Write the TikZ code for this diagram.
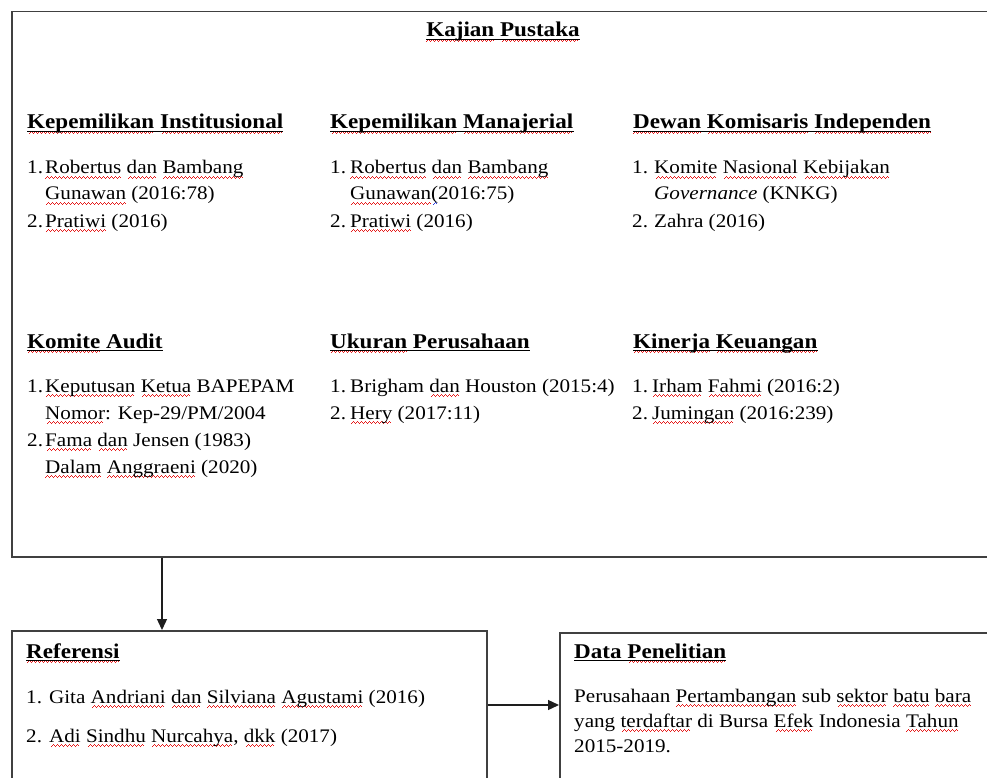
\documentclass[tikz,border=0pt]{standalone}
\usepackage{fontspec}
\setmainfont{Liberation Serif}[FakeStretch=1.1]
\usetikzlibrary{arrows.meta,calc}
\definecolor{frame}{RGB}{64,64,64}
\definecolor{arrowc}{RGB}{30,30,30}
\definecolor{sqred}{RGB}{230,25,25}
\definecolor{sqblue}{RGB}{40,60,220}
\newcommand\wavecell{\hbox{\rule[0pt]{1pt}{1pt}\rule[0.9pt]{1pt}{1pt}\rule[1.8pt]{1pt}{1pt}\rule[0.9pt]{1pt}{1pt}}}
\newcommand\sq[1]{\setbox0\hbox{#1}\rlap{\lower5pt\hbox to\wd0{{\color{sqred}\cleaders\wavecell\hfill}}}\box0\relax}
\newcommand\sqb[1]{\setbox0\hbox{#1}\rlap{\lower5pt\hbox to\wd0{{\color{sqblue}\cleaders\wavecell\hfill}}}\box0\relax}
\tikzset{
  txt/.style={anchor=base west, inner sep=0pt, font=\fontsize{19.2}{22}\selectfont},
  head/.style={anchor=base west, inner sep=0pt, font=\fontsize{21}{24}\selectfont\bfseries},
  boxframe/.style={draw=frame, line width=1.5pt, inner sep=0pt, anchor=north west},
  arr/.style={draw=arrowc, line width=1.3pt, -{Triangle[length=11pt,width=10pt]}},
  uline/.style={draw=black, line width=1.1pt}
}
\begin{document}
\begin{tikzpicture}[x=1pt,y=-1pt]
\useasboundingbox (0,0) rectangle (987,778);
\clip (0,0) rectangle (987,778);
% boxes
\node[boxframe, minimum width=1000pt, minimum height=545pt] (kp) at (11,11) {};
\node[boxframe, minimum width=475pt, minimum height=200pt] (ref) at (11,630) {};
\node[boxframe, minimum width=500pt, minimum height=200pt] (dat) at (559,632) {};
% connectors
\draw[arr] ([xshift=151pt]kp.south west) -- ([xshift=151pt]ref.north west);
\draw[arr] ([yshift=-75pt]ref.north east) -- ([yshift=-73pt]dat.north west);
% title
\node[head, anchor=base] (h0) at (503,37) {\sq{Kajian} \sq{Pustaka}};
% row 1 headings
\node[head] (h11) at (27,129) {\sq{Kepemilikan} \sq{Institusional}};
\node[head] (h12) at (330,129) {\sq{Kepemilikan} \sq{Manajerial}};
\node[head] (h13) at (633,129) {\sq{Dewan} \sq{Komisaris} \sq{Independen}};
% row 1 items
\node[txt] (a11) at (27,174) {\makebox[18pt][l]{1.}\sq{Robertus} \sq{dan} \sq{Bambang}};
\node[txt] (a12) at (45,200) {\sq{Gunawan} (2016:78)};
\node[txt] (a13) at (27,227) {\makebox[18pt][l]{2.}\sq{Pratiwi} (2016)};
\node[txt] (b11) at (330,174) {\makebox[20pt][l]{1.}\sq{Robertus} \sq{dan} \sq{Bambang}};
\node[txt] (b12) at (350,200) {\sq{Gunawan}\sqb{(}2016:75)};
\node[txt] (b13) at (330,227) {\makebox[20pt][l]{2.}\sq{Pratiwi} (2016)};
\node[txt] (c11) at (632,174) {\makebox[22pt][l]{1.}\sq{Komite} \sq{Nasional} \sq{Kebijakan}};
\node[txt] (c12) at (654,200) {\textit{Governance} (KNKG)};
\node[txt] (c13) at (632,227) {\makebox[22pt][l]{2.}Zahra (2016)};
% row 2 headings
\node[head] (h21) at (27,348) {\sq{Komite} Audit};
\node[head] (h22) at (330,348) {\sq{Ukuran} Perusahaan};
\node[head] (h23) at (633,348) {\sq{Kinerja} \sq{Keuangan}};
% row 2 items
\node[txt] (a21) at (27,392) {\makebox[18pt][l]{1.}\sq{Keputusan} \sq{Ketua} BAPEPAM};
\node[txt] (a22) at (45,419) {\sq{Nomor}: Kep-29/PM/2004};
\node[txt] (a23) at (27,446) {\makebox[18pt][l]{2.}\sq{Fama} \sq{dan} Jensen (1983)};
\node[txt] (a24) at (45,473) {\sq{Dalam} \sq{Anggraeni} (2020)};
\node[txt] (b21) at (330,392) {\makebox[20pt][l]{1.}Brigham \sq{dan} Houston (2015:4)};
\node[txt] (b22) at (330,419) {\makebox[20pt][l]{2.}\sq{Hery} (2017:11)};
\node[txt] (c21) at (632,392) {\makebox[20pt][l]{1.}\sq{Irham} \sq{Fahmi} (2016:2)};
\node[txt] (c22) at (632,419) {\makebox[20pt][l]{2.}\sq{Jumingan} (2016:239)};
% referensi
\node[head] (h31) at (26,658) {\sq{Referensi}};
\node[txt] (r1) at (26,703) {1. Gita \sq{Andriani} \sq{dan} \sq{Silviana} \sq{Agustami} (2016)};
\node[txt] (r2) at (26,742) {2. \sq{Adi} \sq{Sindhu} \sq{Nurcahya}, \sq{dkk} (2017)};
% data penelitian
\node[head] (h32) at (574,658) {Data \sq{Penelitian}};
\node[txt] (d1) at (574,702) {Perusahaan \sq{Pertambangan} sub \sq{sektor} \sq{batu} \sq{bara}};
\node[txt] (d2) at (574,727) {yang \sq{terdaftar} di Bursa \sq{Efek} Indonesia \sq{Tahun}};
\node[txt] (d3) at (574,752) {2015-2019.};
% heading underlines
\foreach \n in {h0,h11,h12,h13,h21,h22,h23,h31,h32}
  \draw[uline] ([yshift=-2.5pt]\n.base west) -- ([yshift=-2.5pt]\n.base east);
\end{tikzpicture}
\end{document}
